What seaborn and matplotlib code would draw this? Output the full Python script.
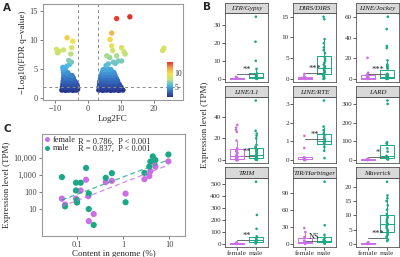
import numpy as np
import pandas as pd
import seaborn as sns
import matplotlib.pyplot as plt
import matplotlib.ticker as ticker
from matplotlib.colors import LinearSegmentedColormap, Normalize
from matplotlib.cm import ScalarMappable

sns.set_style('ticks')
plt.rcParams['font.family'] = ['Liberation Serif', 'DejaVu Serif']
plt.rcParams['axes.unicode_minus'] = True

# ---- panel A: volcano (log2FC vs -log10 FDR)
vol_fc = [
    -7.9, -7.3, -6.8, -6.2, -5.7, -5.1, -4.6, -4.0, -3.5, -3.1,
    -7.7, -7.1, -6.5, -5.9, -5.3, -4.8, -4.2, -3.6, -3.2,
    -7.6, -7.0, -6.4, -5.8, -5.2, -4.6, -4.0, -3.4,
    -7.5, -6.9, -6.3, -5.7, -5.1, -4.5, -3.9,
    -7.4, -6.8, -6.2, -5.6, -5.0, -4.4,
    -7.3, -6.7, -6.1, -5.4, -4.8,
    -7.4, -6.8, -6.1,
    -7.5, -6.9, -7.6,
    -6.4, -5.6, -5.0, -5.8, -5.2, -4.9, -4.6, -6.3, -7.4, -9.5, -9.2, -8.8,
    3.3, 3.9, 4.5, 5.1, 5.7, 6.3, 6.9, 7.5, 8.1, 8.7, 9.3, 9.9, 10.6,
    3.4, 4.0, 4.6, 5.2, 5.8, 6.4, 7.0, 7.6, 8.2, 8.8, 9.4, 10.0,
    3.5, 4.1, 4.7, 5.3, 5.9, 6.5, 7.1, 7.7, 8.3, 8.9, 9.5,
    3.6, 4.2, 4.8, 5.4, 6.0, 6.6, 7.2, 7.8, 8.4, 9.0,
    3.8, 4.4, 5.0, 5.6, 6.2, 6.8, 7.4, 8.0, 8.6,
    4.0, 4.6, 5.2, 5.8, 6.4, 7.0, 7.6, 8.2,
    4.3, 4.9, 5.5, 6.1, 6.7, 7.3, 7.9,
    4.6, 5.2, 5.8, 6.4, 7.0,
    5.5, 6.2, 8.3, 7.7, 9.2, 10.2, 5.7, 6.6, 8.7, 11.3, 7.5, 10.9, 7.2, 10.2,
    6.7, 7.2, 8.7, 12.7, 22.6, 23.0,
]
vol_q = [
    1.4, 1.5, 1.35, 1.45, 1.4, 1.5, 1.35, 1.45, 1.4, 1.55,
    1.9, 2.0, 1.85, 1.95, 1.9, 2.05, 1.85, 1.95, 2.1,
    2.4, 2.5, 2.35, 2.45, 2.4, 2.5, 2.35, 2.5,
    2.9, 3.0, 2.85, 2.95, 2.9, 3.0, 2.9,
    3.4, 3.5, 3.35, 3.45, 3.4, 3.5,
    3.9, 4.0, 3.85, 3.95, 3.9,
    4.4, 4.5, 4.4,
    4.9, 5.0, 5.3,
    5.5, 5.8, 6.2, 6.5, 7.6, 8.7, 9.8, 10.4, 8.3, 8.4, 7.8, 8.1,
    1.4, 1.5, 1.35, 1.45, 1.4, 1.5, 1.35, 1.45, 1.4, 1.5, 1.35, 1.45, 1.4,
    1.9, 2.0, 1.85, 1.95, 1.9, 2.0, 1.85, 1.95, 1.9, 2.0, 1.85, 1.95,
    2.4, 2.5, 2.35, 2.45, 2.4, 2.5, 2.35, 2.45, 2.4, 2.5, 2.4,
    2.9, 3.0, 2.85, 2.95, 2.9, 3.0, 2.85, 2.95, 2.9, 3.0,
    3.4, 3.5, 3.35, 3.45, 3.4, 3.5, 3.35, 3.45, 3.4,
    3.9, 4.0, 3.85, 3.95, 3.9, 4.0, 3.85, 3.95,
    4.4, 4.5, 4.35, 4.45, 4.4, 4.5, 4.4,
    4.9, 5.0, 4.85, 4.95, 4.9,
    5.6, 5.9, 6.0, 6.2, 6.4, 6.4, 7.3, 7.0, 7.3, 7.6, 8.2, 8.0, 9.0, 8.7,
    10.1, 11.2, 13.7, 14.0, 8.2, 8.6,
]

# ---- panel B: expression per TE family
families = ['LTR/Gypsy', 'DIRS/DIRS', 'LINE/Jockey', 'LINE/L1', 'LINE/RTE',
            'LARD', 'TRIM', 'TIR/Harbinger', 'Maverick']
gypsy_f = [1.2, 0.8, 0.5, 0.3, 0.2, 0.1, 0.0]
gypsy_m = [34.3, 20.5, 10.0, 5.5, 3.0, 2.2, 1.8, 1.5, 1.2, 1.0, 0.8, 0.6, 0.5, 0.3, 0.2, 0.1, 0.0]
dirs_f = [1.2, 0.6, 0.4, 0.2, 0.1, 0.0, 0.0]
dirs_m = [15.0, 14.4, 9.6, 8.6, 7.6, 6.9, 6.2, 5.3, 4.8, 4.3, 3.8, 3.4, 3.1, 2.8, 2.5,
          2.2, 2.0, 1.8, 1.6, 1.4, 1.2, 1.0, 0.9, 0.7, 0.5, 0.3, 0.1, 0.0]
jockey_f = [20.5, 6.0, 4.2, 2.5, 1.5, 1.0, 0.6, 0.3, 0.1, 0.0, 0.0]
jockey_m = [60.5, 48.5, 32.0, 30.0, 18.0, 14.0, 13.0, 12.0, 11.0, 10.0, 5.0, 4.5, 4.0,
            3.5, 3.0, 2.6, 2.2, 2.0, 1.9, 1.8, 1.7, 1.6, 1.5, 1.4, 1.3, 1.2, 1.1, 1.0,
            0.9, 0.8, 0.7, 0.6, 0.5, 0.4, 0.3, 0.2, 0.1, 0.0]
l1_f = [32.5, 30.0, 28.0, 26.0, 18.0, 11.0, 10.0, 9.0, 8.0, 7.0, 6.0, 5.0, 4.0, 3.0,
        2.5, 2.0, 1.5, 1.0, 0.8, 0.5, 0.3, 0.2, 0.1, 0.0, 0.0, 0.0]
l1_m = [55.0, 27.0, 24.5, 22.5, 20.0, 14.0, 12.0, 10.5, 9.5, 8.5, 7.5, 6.5, 5.5, 4.5,
        4.0, 3.5, 3.0, 2.5, 2.0, 1.8, 1.5, 1.2, 1.0, 0.8, 0.5, 0.3, 0.1]
rte_f = [1.3, 0.65, 0.15, 0.1, 0.08, 0.05, 0.03, 0.0, 0.0]
rte_m = [3.2, 1.8, 1.6, 1.45, 1.3, 1.2, 1.12, 1.05, 1.0, 0.95, 0.9, 0.85, 0.7, 0.5, 0.1]
lard_f = [6.0, 3.0, 1.5, 0.5, 0.0]
lard_m = [318.0, 300.0, 95.0, 88.0, 62.0, 45.0, 22.0, 18.0, 15.0, 12.0, 10.0, 8.0, 5.0, 3.0]
trim_f = [12.0, 8.0, 5.0, 3.0, 1.0, 0.0]
trim_m = [515.0, 240.0, 125.0, 62.0, 48.0, 40.0, 33.0, 28.0, 24.0, 20.0, 16.0, 12.0, 8.0, 4.0]
tir_f = [28.0, 21.0, 12.0, 6.0, 4.0, 3.0, 2.0, 1.0, 0.5, 0.0]
tir_m = [110.0, 33.0, 16.0, 11.0, 8.0, 6.5, 5.0, 4.0, 3.0, 2.0, 1.0, 0.5]
mav_f = [0.6, 0.4, 0.25, 0.1, 0.0]
mav_m = [21.8, 17.0, 16.0, 15.0, 13.5, 12.0, 10.5, 9.5, 9.0, 8.5, 8.0, 7.5, 7.0, 6.8,
         6.5, 6.0, 5.5, 5.0, 4.5, 4.0, 3.5, 3.0, 2.5, 2.0, 1.5, 1.0]
female_vals = [gypsy_f, dirs_f, jockey_f, l1_f, rte_f, lard_f, trim_f, tir_f, mav_f]
male_vals = [gypsy_m, dirs_m, jockey_m, l1_m, rte_m, lard_m, trim_m, tir_m, mav_m]
facet_ticks = [[0, 10, 20, 30], [0, 5, 10, 15], [0, 20, 40, 60], [0, 20, 40], [0, 1, 2, 3],
               [0, 100, 200, 300], [0, 100, 200, 300, 400, 500], [0, 30, 60, 90],
               [0, 5, 10, 15, 20]]
sig_labels = ['**', '***', '***', '**', '**', '*', '**', 'NS', '***']
sig_levels = [2.8, 1.4, 4.5, 4.0, 1.15, 15, 30, 6, 2.0]

# ---- panel C: content in genome vs expression
content_f = [0.047, 0.055, 0.095, 0.10, 0.12, 0.157, 0.176, 0.18, 0.23, 0.42, 0.57, 1.13,
             2.9, 3.7, 3.9, 4.7, 5.0, 9.6]
tpm_f = [42, 19, 42, 28, 125, 520, 58, 2.1, 5.4, 380, 450, 82, 560, 850, 1600, 5400, 3000, 6000]
content_m = [0.047, 0.055, 0.095, 0.095, 0.10, 0.10, 0.12, 0.157, 0.18, 0.18, 0.23, 0.42,
             0.57, 1.13, 2.9, 3.7, 3.9, 4.4, 5.0, 9.6]
tpm_m = [740, 15, 350, 125, 34, 25, 350, 2500, 82, 10.5, 1.26, 670, 1250, 26, 1300, 3000,
         5800, 11700, 7200, 15000]
r_female, r_male = 0.786, 0.837

FEMALE = '#CC6FE6'
MALE = '#1BA886'
pal = {'female': FEMALE, 'male': MALE}
GRID = '#9A9A9A'
W, H = 400, 257


def box(l, t, r, b):
    return [l / W, 1 - b / H, (r - l) / W, (b - t) / H]


fig = plt.figure(figsize=(4, 2.57), dpi=100)

# ================= A
axA = fig.add_axes(box(43, 4, 183, 100))
cmap = LinearSegmentedColormap.from_list(
    'vol', ['#26328C', '#3470C0', '#4DB8E6', '#BFE27A', '#F5E24A', '#F3A04C', '#E3302A'])
norm = Normalize(1.3, 14)
dfA = pd.DataFrame({'fc': vol_fc, 'q': vol_q}).sort_values('q')
sns.scatterplot(data=dfA, x='fc', y='q', hue='q', palette=cmap, hue_norm=norm,
                s=15, linewidth=0, legend=False, ax=axA)
for v in (-3, 3):
    axA.axvline(v, color='#8A8A8A', lw=0.7, dashes=(3, 3))
axA.axhline(2, color='#8A8A8A', lw=0.7, dashes=(3, 3))
axA.set_xlim(-13.6, 28.8)
axA.set_ylim(-0.3, 16.2)
axA.set_xticks([-10, 0, 10, 20])
axA.set_yticks([0, 5, 10, 15])
axA.set_xlabel('Log2FC', fontsize=6.5, labelpad=1)
axA.set_ylabel('\u2212Log10(FDR q\u2212value)', fontsize=6.5, labelpad=2)
cax = fig.add_axes(box(167, 62, 173, 97))
cb = fig.colorbar(ScalarMappable(norm=norm, cmap=cmap), cax=cax, ticks=[5, 10])
cb.outline.set_visible(False)
cax.tick_params(labelsize=5.5, length=0, pad=1, labelcolor='#333333')

# ================= C
axC = fig.add_axes(box(42, 134, 185, 236))
dfC = pd.concat([
    pd.DataFrame({'content': content_f, 'tpm': tpm_f, 'sex': 'female'}),
    pd.DataFrame({'content': content_m, 'tpm': tpm_m, 'sex': 'male'}),
])
axC.set_xscale('log')
axC.set_yscale('log')
for sex in ['female', 'male']:
    d = dfC[dfC.sex == sex]
    k, b = np.polyfit(np.log10(d.content), np.log10(d.tpm), 1)
    xs = np.array([d.content.min(), d.content.max()])
    sns.lineplot(x=xs, y=10 ** (b + k * np.log10(xs)), color=pal[sex], lw=0.9,
                 linestyle=(0, (4, 2.5)), alpha=0.8, ax=axC)
sns.scatterplot(data=dfC, x='content', y='tpm', hue='sex', palette=pal, s=20,
                linewidth=0, ax=axC)
axC.set_xlim(0.0174, 22)
axC.set_ylim(0.29, 2.3e5)
axC.set_xticks([0.1, 1, 10])
axC.set_xticklabels(['0.1', '1', '10'])
axC.set_yticks([10, 100, 1000, 10000])
axC.yaxis.set_major_formatter(ticker.FuncFormatter(lambda v, p: f'{v:,.0f}'))
axC.xaxis.set_minor_locator(ticker.NullLocator())
axC.yaxis.set_minor_locator(ticker.NullLocator())
axC.set_xlabel('Content in genome (%)', fontsize=6.5, labelpad=0.5)
axC.set_ylabel('Expression level (TPM)', fontsize=6.5, labelpad=2)
axC.legend(loc='upper left', bbox_to_anchor=(0.0, 1.0), frameon=False,
           fontsize=6, handlelength=0.8, handletextpad=0.3, labelspacing=0.1,
           borderaxespad=0.1, borderpad=0.1, markerscale=0.8)
axC.text(0.255, 0.925, f'R = {r_female},  P < 0.001', transform=axC.transAxes,
         fontsize=6, va='center')
axC.text(0.255, 0.852, f'R = {r_male},  P < 0.001', transform=axC.transAxes,
         fontsize=6, va='center')

for ax in (axA, axC):
    for s in ax.spines.values():
        s.set_color(GRID)
        s.set_linewidth(0.8)
    ax.tick_params(labelsize=6, length=2.5, width=0.6, color='#666666',
                   labelcolor='#444444', pad=1.2)

# ================= B
rows = [(3, 13, 82), (86, 97, 163), (167, 178, 247)]
cols = [225, 293, 356]
fw = 43
dfB = pd.concat([
    pd.concat([pd.DataFrame({'family': fam, 'sex': 'female', 'tpm': fv}),
               pd.DataFrame({'family': fam, 'sex': 'male', 'tpm': mv})])
    for fam, fv, mv in zip(families, female_vals, male_vals)
])
order = ['female', 'male']
for i, fam in enumerate(families):
    r, c = divmod(i, 3)
    st, pt, pb = rows[r]
    l = cols[c]
    ax = fig.add_axes(box(l, pt, l + fw, pb))
    sub = dfB[dfB.family == fam]
    sns.boxplot(data=sub, x='sex', y='tpm', hue='sex', order=order, hue_order=order,
                palette=pal, fill=False, width=0.7, showfliers=False, showcaps=False,
                linewidth=0.7, legend=False, ax=ax)
    sns.stripplot(data=sub, x='sex', y='tpm', hue='sex', order=order, hue_order=order,
                  palette=pal, size=1.9, jitter=0.04, linewidth=0, legend=False, ax=ax)
    lvl = sig_levels[i]
    ax.plot([0, 1], [lvl, lvl], color='#555555', lw=0.6)
    ax.text(0.5, lvl, sig_labels[i], ha='center', va='bottom', fontsize=6,
            color='#222222')
    ymax = sub.tpm.max()
    ax.set_ylim(-0.05 * ymax, 1.06 * ymax)
    ax.set_xlim(-0.6, 1.6)
    ax.set_yticks(facet_ticks[i])
    ax.set_xlabel('')
    ax.set_ylabel('')
    if r == 2:
        ax.tick_params(axis='x', labelsize=5.2, length=2, width=0.6, pad=1,
                       color='#444444', labelcolor='#333333')
    else:
        ax.tick_params(axis='x', length=0, labelbottom=False)
    ax.tick_params(axis='y', labelsize=5.2, length=2, width=0.6, pad=1,
                   color='#444444', labelcolor='#333333')
    for s in ax.spines.values():
        s.set_color('#555555')
        s.set_linewidth(0.6)
    sax = fig.add_axes(box(l, st, l + fw, pt))
    sax.set_facecolor('#D9D9D9')
    sax.set_xticks([])
    sax.set_yticks([])
    for s in sax.spines.values():
        s.set_color('#555555')
        s.set_linewidth(0.6)
    sax.text(0.5, 0.45, fam, ha='center', va='center', fontsize=5, style='italic',
             color='#1A1A1A', transform=sax.transAxes)

fig.text(205 / W, 1 - 125 / H, 'Expression level (TPM)', rotation=90, ha='center',
         va='center', fontsize=6.5)

for lab, x, y in [('A', 3, 3), ('B', 203, 2), ('C', 3, 124)]:
    fig.text(x / W, 1 - y / H, lab, fontsize=7.5, weight='bold',
             family='DejaVu Sans', va='top')

fig.savefig('out.png', dpi=100)
